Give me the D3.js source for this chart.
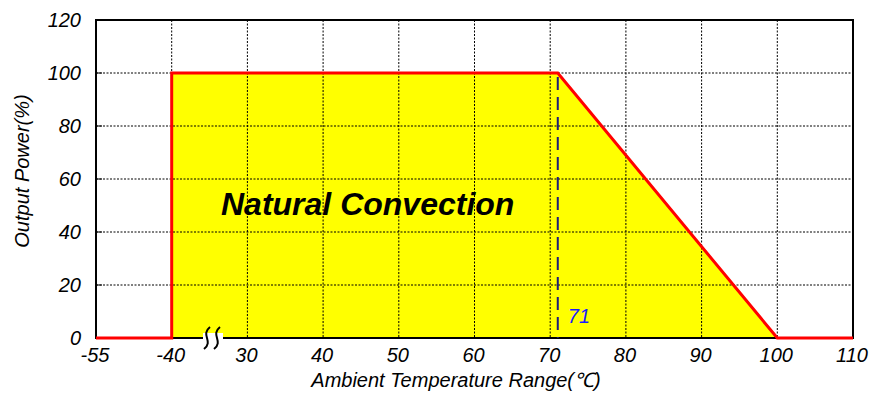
<!DOCTYPE html>
<html>
<head>
<meta charset="utf-8">
<script src="https://cdn.jsdelivr.net/npm/d3@7"></script>
<style>
  body { margin: 0; background: #fff; }
  text { font-family: "Liberation Sans", Arial, sans-serif; font-style: italic; }
</style>
</head>
<body>
<svg id="chart" width="880" height="394"></svg>
<script>
// tick values on the (broken) temperature axis
const xTicks = [-55, -40, 30, 40, 50, 60, 70, 80, 90, 100, 110];
const yTicks = [0, 20, 40, 60, 80, 100, 120];

// derating curve
const curveTemp = [-55, -40, -40, 71, 100, 110];
const curvePower = [0, 0, 100, 100, 0, 0];

// filled region
const fillTemp = [-40, -40, 71, 100];
const fillPower = [0, 100, 100, 0];

const markTemp = 71;

const svg = d3.select("#chart");
const plotLeft = 96, plotRight = 853, plotTop = 20, plotBottom = 338;
const step = (plotRight - plotLeft) / 10;

// axis break between -40 and 30, so use a piecewise scale
const x = d3.scaleLinear()
  .domain([-55, -40, 30, 110])
  .range([plotLeft, plotLeft + step, plotLeft + 2 * step, plotRight]);
const y = d3.scaleLinear().domain([0, 120]).range([plotBottom, plotTop]);

// fill
const fillPts = fillTemp.map((t, i) => [x(t), y(fillPower[i])]);
svg.append("path")
  .attr("d", d3.line()(fillPts) + "Z")
  .attr("fill", "#ffff00");

// grid
svg.append("g")
  .selectAll("line")
  .data(yTicks.filter(v => v > 0 && v < 120))
  .join("line")
  .attr("x1", plotLeft).attr("x2", plotRight)
  .attr("y1", d => y(d)).attr("y2", d => y(d))
  .attr("stroke", "#000")
  .attr("stroke-width", 1)
  .attr("stroke-dasharray", "2,1.5");

svg.append("g")
  .selectAll("line")
  .data(xTicks.slice(1, -1))
  .join("line")
  .attr("x1", d => x(d)).attr("x2", d => x(d))
  .attr("y1", plotTop).attr("y2", plotBottom)
  .attr("stroke", "#000")
  .attr("stroke-width", 1)
  .attr("stroke-dasharray", "2,1.5");

// short inside ticks on the left axis
svg.append("g")
  .selectAll("line")
  .data(yTicks)
  .join("line")
  .attr("x1", plotLeft).attr("x2", plotLeft + 6)
  .attr("y1", d => y(d)).attr("y2", d => y(d))
  .attr("stroke", "#000")
  .attr("stroke-width", 1);

// frame
svg.append("rect")
  .attr("x", plotLeft).attr("y", plotTop)
  .attr("width", plotRight - plotLeft).attr("height", plotBottom - plotTop)
  .attr("fill", "none")
  .attr("stroke", "#000")
  .attr("stroke-width", 2);

// marker at 71
svg.append("line")
  .attr("x1", x(markTemp)).attr("x2", x(markTemp))
  .attr("y1", y(100) + 4).attr("y2", plotBottom)
  .attr("stroke", "#1c1c7a")
  .attr("stroke-width", 2)
  .attr("stroke-dasharray", "13,7");

// derating curve
const curvePts = curveTemp.map((t, i) => [x(t), y(curvePower[i])]);
svg.append("path")
  .attr("d", d3.line()(curvePts))
  .attr("fill", "none")
  .attr("stroke", "#ff0000")
  .attr("stroke-width", 3)
  .attr("stroke-linejoin", "miter");

// axis break symbol
const bx = 212;
svg.append("rect")
  .attr("x", bx - 9).attr("y", plotBottom - 5)
  .attr("width", 20).attr("height", 10)
  .attr("fill", "#fff");
[-5, 5].forEach(dx => {
  svg.append("path")
    .attr("d", `M${bx + dx + 3},${plotBottom - 11} C${bx + dx - 7},${plotBottom - 3} ${bx + dx + 7},${plotBottom + 3} ${bx + dx - 3},${plotBottom + 11}`)
    .attr("fill", "none")
    .attr("stroke", "#000")
    .attr("stroke-width", 2);
});

// tick labels
svg.append("g")
  .selectAll("text")
  .data(yTicks)
  .join("text")
  .attr("x", 81)
  .attr("y", d => y(d) + 7)
  .attr("text-anchor", "end")
  .attr("font-size", 20)
  .text(d => d);

svg.append("g")
  .selectAll("text")
  .data(xTicks)
  .join("text")
  .attr("x", d => x(d) - 1)
  .attr("y", 362)
  .attr("text-anchor", "middle")
  .attr("font-size", 20)
  .text(d => d);

svg.append("text")
  .attr("x", x(markTemp) + 10)
  .attr("y", 323)
  .attr("font-size", 20)
  .attr("fill", "#1a1aff")
  .text(markTemp);

// titles
svg.append("text")
  .attr("x", 456)
  .attr("y", 387)
  .attr("text-anchor", "middle")
  .attr("font-size", 20)
  .text("Ambient Temperature Range(℃)");

svg.append("text")
  .attr("transform", `translate(29,171) rotate(-90)`)
  .attr("text-anchor", "middle")
  .attr("font-size", 20)
  .text("Output Power(%)");

svg.append("text")
  .attr("x", 221)
  .attr("y", 215)
  .attr("font-size", 32)
  .attr("font-weight", "bold")
  .text("Natural Convection");
</script>
</body>
</html>
